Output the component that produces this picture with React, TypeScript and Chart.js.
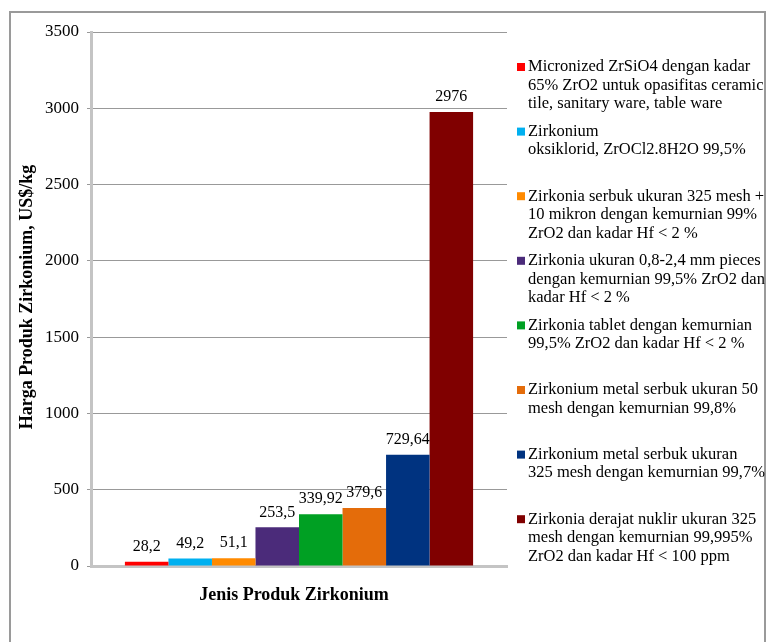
import React, { useEffect, useRef } from "react";
import { Chart, registerables } from "chart.js";

Chart.register(...registerables);

// Harga produk zirkonium (US$/kg)
const productLines: string[][] = [
  ["Micronized ZrSiO4 dengan kadar", "65% ZrO2 untuk opasifitas ceramic", "tile, sanitary ware, table ware"],
  ["Zirkonium", "oksiklorid, ZrOCl2.8H2O 99,5%"],
  ["Zirkonia serbuk ukuran 325 mesh +", "10 mikron dengan kemurnian 99%", "ZrO2 dan kadar Hf < 2 %"],
  ["Zirkonia ukuran 0,8-2,4 mm pieces", "dengan kemurnian 99,5% ZrO2 dan", "kadar Hf < 2 %"],
  ["Zirkonia tablet dengan kemurnian", "99,5% ZrO2 dan kadar Hf < 2 %"],
  ["Zirkonium metal serbuk ukuran 50", "mesh dengan kemurnian 99,8%"],
  ["Zirkonium metal serbuk ukuran", "325 mesh dengan kemurnian 99,7%"],
  ["Zirkonia derajat nuklir ukuran 325", "mesh dengan kemurnian 99,995%", "ZrO2 dan kadar Hf < 100 ppm"],
];
const prices: number[] = [28.2, 49.2, 51.1, 253.5, 339.92, 379.6, 729.64, 2976];
const barColors: string[] = ["#FF0000", "#00B0F0", "#FF8A00", "#4B2B7A", "#00A023", "#E46C0A", "#003380", "#800000"];
const categoryLabels: string[] = [""];
const yTicks: number[] = [0, 500, 1000, 1500, 2000, 2500, 3000, 3500];

const xTitle = "Jenis Produk Zirkonium";
const yTitle = "Harga Produk Zirkonium, US$/kg";

const SERIF = "'Liberation Serif', 'Times New Roman', serif";

const formatValue = (v: number) => String(v).replace(".", ",");

// Frame, axis titles, value labels and a wrapped legend drawn on the canvas
const decorations = {
  id: "decorations",
  afterDatasetsDraw(chart: any) {
    const ctx = chart.ctx as CanvasRenderingContext2D;
    ctx.save();
    ctx.fillStyle = "#000";
    ctx.font = `16px ${SERIF}`;
    ctx.textAlign = "center";
    ctx.textBaseline = "middle";
    chart.data.datasets.forEach((ds: any, i: number) => {
      const el = chart.getDatasetMeta(i).data[0];
      if (!el) return;
      const y = Math.min(el.y - 15, el.base - 13);
      ctx.fillText(formatValue(ds.data[0]), el.x, y);
    });
    ctx.restore();
  },
  afterDraw(chart: any) {
    const ctx = chart.ctx as CanvasRenderingContext2D;
    const area = chart.chartArea;
    ctx.save();

    // outer frame
    ctx.strokeStyle = "#9a9a9a";
    ctx.lineWidth = 2;
    ctx.strokeRect(10, 12, 755, 640);

    // axis titles
    ctx.fillStyle = "#000";
    ctx.font = `bold 18px ${SERIF}`;
    ctx.textAlign = "center";
    ctx.textBaseline = "middle";
    ctx.fillText(xTitle, (area.left + area.right) / 2 - 5, 595);
    ctx.save();
    ctx.translate(27, (area.top + area.bottom) / 2 - 2);
    ctx.rotate(-Math.PI / 2);
    ctx.fillText(yTitle, 0, 0);
    ctx.restore();

    // legend
    const legendX = area.right + 10;
    const firstY = 67;
    const entryGap = 64.6;
    const lineGap = 18.5;
    ctx.font = `16.5px ${SERIF}`;
    ctx.textAlign = "left";
    chart.data.datasets.forEach((ds: any, i: number) => {
      const y0 = firstY + i * entryGap;
      ctx.fillStyle = ds.backgroundColor;
      ctx.fillRect(legendX, y0 - 4, 8, 8);
      ctx.fillStyle = "#000";
      productLines[i].forEach((line, j) => {
        ctx.fillText(line, legendX + 11, y0 + j * lineGap);
      });
    });
    ctx.restore();
  },
};

export default function App() {
  const ref = useRef<HTMLCanvasElement | null>(null);

  useEffect(() => {
    document.body.style.margin = "0";
    const canvas = ref.current;
    if (!canvas) return;
    const chart = new Chart(canvas, {
      type: "bar",
      data: {
        labels: categoryLabels,
        datasets: prices.map((v, i) => ({
          label: productLines[i].join(" "),
          data: [v],
          backgroundColor: barColors[i],
          borderWidth: 0,
          categoryPercentage: 0.837,
          barPercentage: 1,
        })),
      },
      options: {
        animation: false,
        responsive: false,
        devicePixelRatio: 1,
        layout: { padding: { top: 32, right: 260, bottom: 76, left: 0 } },
        plugins: {
          legend: { display: false },
          tooltip: { enabled: false },
        },
        scales: {
          x: {
            ticks: { display: false },
            grid: { display: false },
            border: { display: true, color: "#c4c4c4", width: 3 },
            afterFit: (scale: any) => {
              scale.height = 0;
            },
          },
          y: {
            min: 0,
            max: 3500,
            afterBuildTicks: (scale: any) => {
              scale.ticks = yTicks.map((value) => ({ value }));
            },
            ticks: {
              color: "#000",
              font: { family: SERIF, size: 17 },
              padding: 8,
              callback: (value: any) => String(value),
            },
            grid: {
              color: "#999",
              lineWidth: 1,
              tickLength: 4,
              drawTicks: true,
            },
            border: { display: true, color: "#c4c4c4", width: 3 },
            afterFit: (scale: any) => {
              scale.width = 91;
            },
          },
        },
      },
      plugins: [decorations],
    });
    return () => chart.destroy();
  }, []);

  return <canvas ref={ref} width={767} height={642} style={{ display: "block" }} />;
}
